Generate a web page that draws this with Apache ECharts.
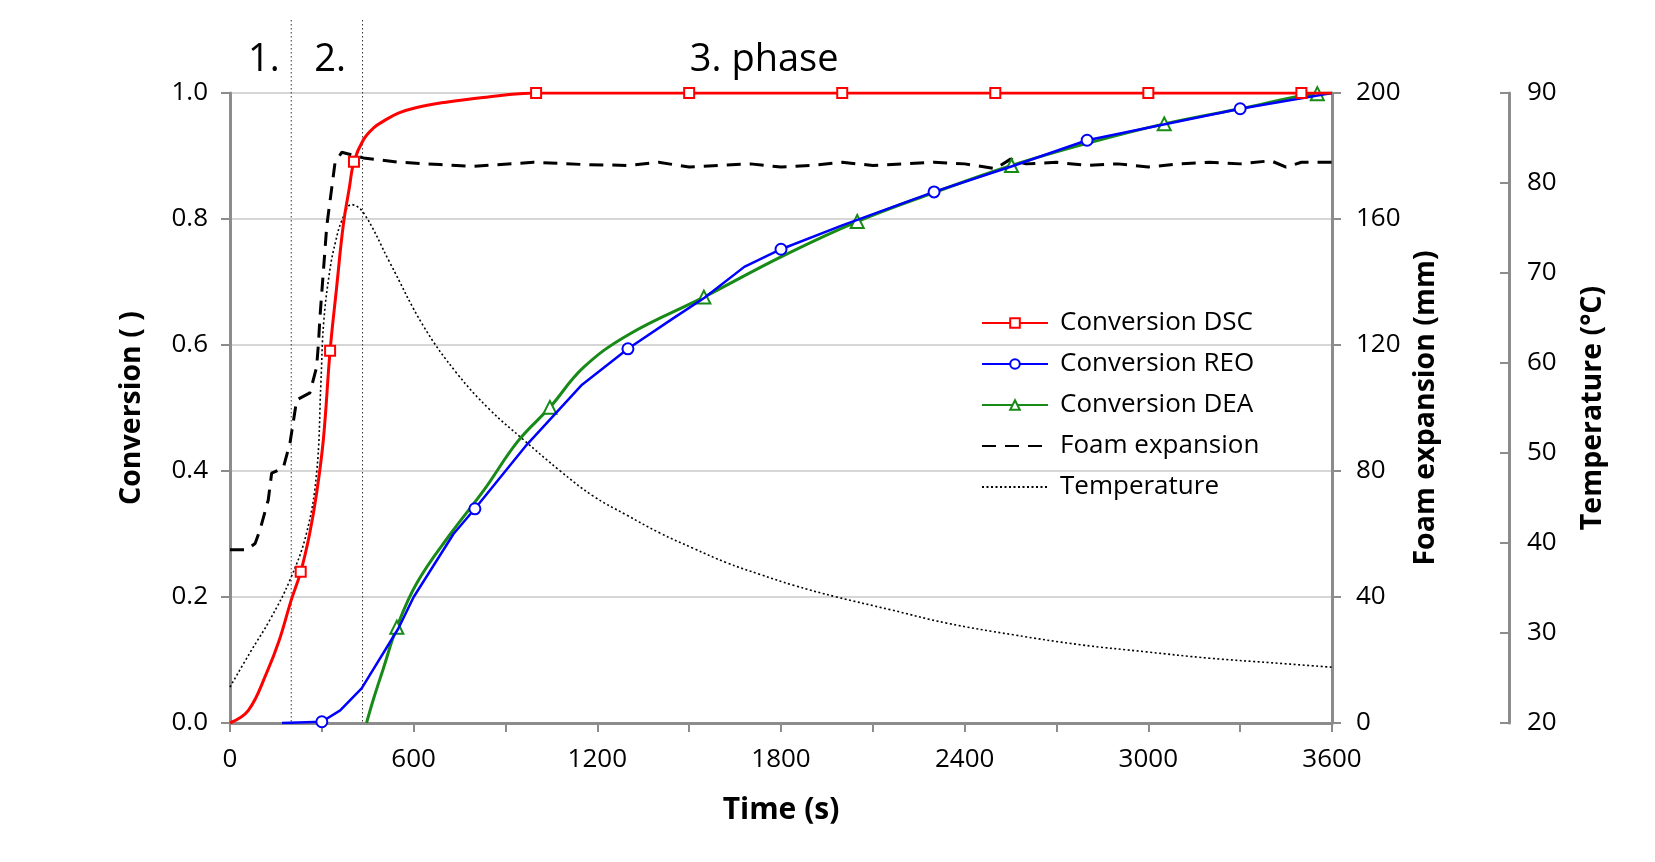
<!DOCTYPE html>
<html>
<head>
<meta charset="utf-8">
<script src="https://cdn.jsdelivr.net/npm/echarts@6/dist/echarts.min.js"></script>
<style>
  html, body { margin: 0; padding: 0; background: #fff; }
  #main { width: 1655px; height: 862px; }
</style>
</head>
<body>
<div id="main"></div>
<script>
// time (s) / conversion ( ) for the DSC curve
const dscTime = [0, 60, 120, 160, 200, 231, 260, 283, 305, 327, 348, 370, 390, 405, 436, 470, 500, 550, 610, 700, 827, 1000, 1500, 2000, 2500, 3000, 3500, 3600]
const dscConv = [0, 0.02, 0.08, 0.13, 0.195, 0.24, 0.30, 0.365, 0.45, 0.591, 0.69, 0.79, 0.85, 0.891, 0.926, 0.945, 0.955, 0.968, 0.977, 0.985, 0.993, 1.0, 1.0, 1.0, 1.0, 1.0, 1.0, 1.0]
const dscMarks = [231, 327, 405, 1000, 1500, 2000, 2500, 3000, 3500]

const reoTime = [170, 300, 360, 430, 550, 600, 730, 800, 970, 1150, 1300, 1450, 1550, 1680, 1800, 2000, 2300, 2550, 2800, 3050, 3300, 3600]
const reoConv = [0, 0.002, 0.02, 0.055, 0.15, 0.2, 0.30, 0.34, 0.442, 0.537, 0.594, 0.643, 0.675, 0.724, 0.752, 0.79, 0.843, 0.883, 0.925, 0.95, 0.975, 1.0]
const reoMarks = [300, 800, 1300, 1800, 2300, 2800, 3300]

const deaTime = [446, 470, 500, 545, 610, 720, 830, 940, 1045, 1154, 1300, 1548, 1800, 2049, 2300, 2553, 2800, 3052, 3300, 3552, 3600]
const deaConv = [0, 0.04, 0.085, 0.152, 0.222, 0.30, 0.37, 0.447, 0.501, 0.564, 0.616, 0.676, 0.74, 0.796, 0.842, 0.885, 0.92, 0.951, 0.975, 0.999, 1.0]
const deaMarks = [545, 1045, 1548, 2049, 2553, 3052, 3552]

// foam height (mm)
const foamTime = [0, 54, 82, 98, 125, 136, 174, 196, 218, 261, 283, 289, 294, 316, 343, 365, 436, 555, 686, 795, 991, 1154, 1300, 1400, 1500, 1600, 1700, 1800, 1900, 2000, 2100, 2200, 2300, 2400, 2500, 2550, 2600, 2700, 2800, 2900, 3000, 3100, 3200, 3300, 3400, 3450, 3500, 3600]
const foamMm = [55, 55, 57, 61.3, 70.8, 79.3, 81, 88.9, 102.6, 104.8, 113, 120.6, 129, 157.7, 177.8, 181.2, 179.4, 178, 177.3, 176.7, 178, 177.3, 177, 178, 176.5, 177, 177.5, 176.5, 177, 178, 177, 177.5, 178, 177.5, 176, 179, 177.5, 178, 177, 177.5, 176.5, 177.5, 178, 177.5, 178.5, 176.5, 178, 178]

// temperature (°C)
const tempTime = [0, 65, 131, 196, 250, 283, 297, 306, 327, 345, 365, 397, 436, 523, 632, 740, 849, 958, 1079, 1187, 1296, 1405, 1514, 1623, 1732, 1841, 1982, 2156, 2341, 2559, 2777, 2995, 3200, 3400, 3600]
const tempC = [24, 27.8, 31.5, 35.9, 41.1, 47.8, 57.8, 64.5, 70.5, 73.5, 75.8, 77.6, 76.7, 71.1, 64.1, 58.9, 54.8, 51.5, 48.0, 45.2, 43.1, 41.1, 39.4, 37.8, 36.5, 35.3, 34.0, 32.6, 31.1, 29.8, 28.7, 27.9, 27.2, 26.7, 26.2]

// phase boundaries and labels (s)
const phaseBounds = [200, 433]
const phaseLabels = [['1.', 111], ['2.', 327], ['3. phase', 1745]]

const FONT = '"Open Sans", "DejaVu Sans", sans-serif'
const AXIS_COLOR = '#8c8c8c'

function withMarks(times, vals, marks, symbol) {
  return times.map((t, i) => ({
    value: [t, vals[i]],
    symbol: marks.includes(t) ? symbol : 'none',
  }))
}

const chart = echarts.init(document.getElementById('main'))

const axisLine = { show: true, onZero: false, lineStyle: { color: AXIS_COLOR, width: 3 } }
const axisTick = { show: true, length: 9, lineStyle: { color: AXIS_COLOR, width: 2 } }
const labelStyle = { color: '#000', fontSize: 26, fontFamily: FONT }
const nameStyle = { color: '#000', fontSize: 28.5, fontWeight: 'bold', fontFamily: FONT }
const noMarker = { color: 'transparent', borderColor: 'transparent', borderWidth: 0, opacity: 0 }

const option = {
  backgroundColor: '#fff',
  animation: false,
  grid: { left: 230, right: 323, top: 93, bottom: 139 },
  legend: {
    orient: 'vertical',
    left: 976,
    top: 303,
    itemWidth: 66,
    itemHeight: 12,
    itemGap: 11,
    textStyle: { fontSize: 26, fontFamily: FONT, color: '#000', lineHeight: 30, padding: [0, 0, 0, 7] },
    data: [
      'Conversion DSC',
      'Conversion REO',
      'Conversion DEA',
      { name: 'Foam expansion', itemStyle: noMarker },
      { name: 'Temperature', itemStyle: noMarker },
    ],
  },
  xAxis: {
    type: 'value',
    min: 0,
    max: 3600,
    interval: 600,
    name: 'Time (s)',
    nameLocation: 'middle',
    nameGap: 72,
    nameTextStyle: Object.assign({}, nameStyle, { fontSize: 30 }),
    axisLine: axisLine,
    axisTick: axisTick,
    minorTick: { show: true, splitNumber: 2, length: 9, lineStyle: { color: AXIS_COLOR, width: 2 } },
    axisLabel: Object.assign({ margin: 24, formatter: (v) => String(v) }, labelStyle),
    splitLine: { show: false },
  },
  yAxis: [
    {
      type: 'value',
      min: 0,
      max: 1,
      interval: 0.2,
      position: 'left',
      name: 'Conversion ( )',
      nameLocation: 'middle',
      nameGap: 84,
      nameTextStyle: nameStyle,
      axisLine: axisLine,
      axisTick: axisTick,
      axisLabel: Object.assign({ margin: 22, formatter: (v) => v.toFixed(1) }, labelStyle),
      splitLine: { show: true, lineStyle: { color: '#c8c8c8', width: 1.5 } },
    },
    {
      type: 'value',
      min: 0,
      max: 200,
      interval: 40,
      position: 'right',
      name: 'Foam expansion (mm)',
      nameLocation: 'middle',
      nameGap: 79,
      nameTextStyle: nameStyle,
      axisLine: axisLine,
      axisTick: axisTick,
      axisLabel: Object.assign({ margin: 24 }, labelStyle),
      splitLine: { show: false },
    },
    {
      type: 'value',
      min: 20,
      max: 90,
      interval: 10,
      position: 'right',
      offset: 177,
      name: 'Temperature (°C)',
      nameLocation: 'middle',
      nameGap: 69,
      nameTextStyle: nameStyle,
      axisLine: axisLine,
      axisTick: Object.assign({ inside: true }, axisTick),
      axisLabel: Object.assign({ margin: 18 }, labelStyle),
      splitLine: { show: false },
    },
  ],
  series: [
    {
      name: 'Temperature',
      type: 'line',
      yAxisIndex: 2,
      smooth: 0.4,
      symbol: 'none',
      lineStyle: { color: '#000', width: 1.6, type: [2, 2.5] },
      itemStyle: { color: '#000' },
      data: tempTime.map((t, i) => [t, tempC[i]]),
      z: 2,
    },
    {
      name: 'Foam expansion',
      type: 'line',
      yAxisIndex: 1,
      symbol: 'none',
      lineStyle: { color: '#000', width: 3, type: [14, 9] },
      itemStyle: { color: '#000' },
      data: foamTime.map((t, i) => [t, foamMm[i]]),
      z: 3,
    },
    {
      name: 'Conversion DEA',
      type: 'line',
      smooth: 0.4,
      symbol: 'triangle',
      symbolSize: 13,
      showSymbol: true,
      lineStyle: { color: '#178a17', width: 3 },
      itemStyle: { color: '#fff', borderColor: '#178a17', borderWidth: 2 },
      data: withMarks(deaTime, deaConv, deaMarks, 'triangle'),
      z: 4,
    },
    {
      name: 'Conversion REO',
      type: 'line',
      symbol: 'circle',
      symbolSize: 11,
      showSymbol: true,
      lineStyle: { color: '#0000ff', width: 2.5 },
      itemStyle: { color: '#fff', borderColor: '#0000ff', borderWidth: 2 },
      data: withMarks(reoTime, reoConv, reoMarks, 'circle'),
      z: 5,
    },
    {
      name: 'Conversion DSC',
      type: 'line',
      smooth: 0.4,
      symbol: 'rect',
      symbolSize: 10,
      showSymbol: true,
      lineStyle: { color: '#ff0000', width: 3 },
      itemStyle: { color: '#fff', borderColor: '#ff0000', borderWidth: 2 },
      data: withMarks(dscTime, dscConv, dscMarks, 'rect'),
      z: 6,
    },
  ],
}

chart.setOption(option)

// phase boundaries and phase labels, placed through the x scale
const yBottom = chart.convertToPixel({ yAxisIndex: 0 }, 0)
const graphics = []
phaseBounds.forEach((t) => {
  const x = chart.convertToPixel({ xAxisIndex: 0 }, t)
  graphics.push({
    type: 'line',
    shape: { x1: x, y1: 20, x2: x, y2: yBottom },
    style: { stroke: '#333', lineWidth: 1, lineDash: [1.5, 2.5] },
    z: 1,
  })
})
phaseLabels.forEach(([txt, t]) => {
  graphics.push({
    type: 'text',
    x: chart.convertToPixel({ xAxisIndex: 0 }, t),
    y: 60,
    style: { text: txt, fill: '#000', font: '38px ' + FONT, align: 'center', verticalAlign: 'middle' },
  })
})
chart.setOption({ graphic: graphics })
</script>
</body>
</html>
